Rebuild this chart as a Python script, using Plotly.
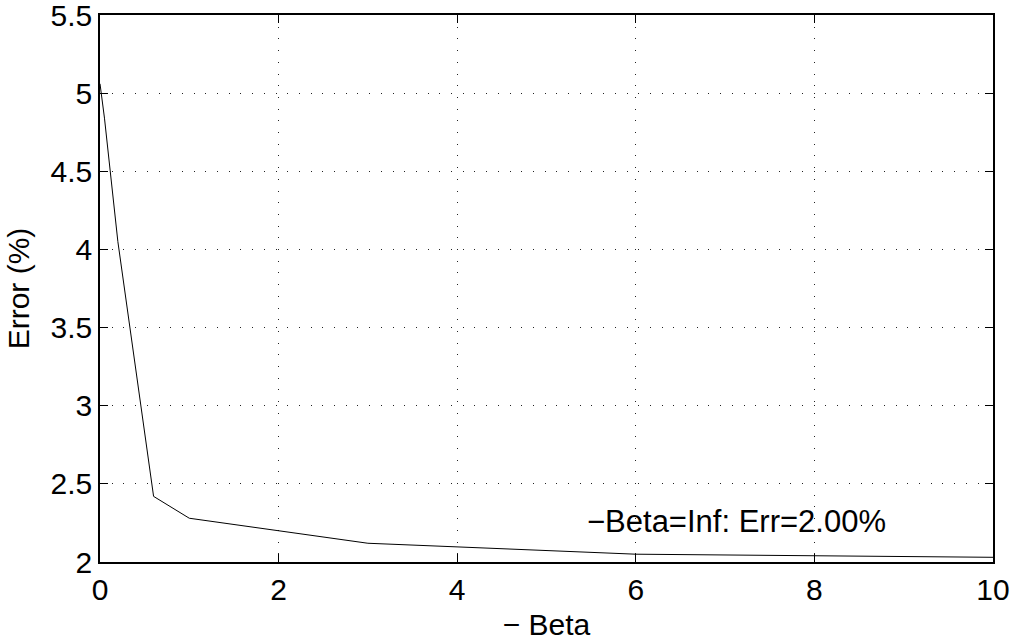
import plotly.graph_objects as go

beta = [0, 0.05, 0.2, 0.6, 1, 3, 6, 10]
err = [5.06, 4.84, 4.05, 2.42, 2.28, 2.12, 2.05, 2.03]
x_ticks = [0, 2, 4, 6, 8, 10]
y_ticks = [2, 2.5, 3, 3.5, 4, 4.5, 5, 5.5]
y_tick_text = ["2", "2.5", "3", "3.5", "4", "4.5", "5", "5.5"]
note = "\u2212Beta=Inf: Err=2.00%"
x_title = "\u2212 Beta"
y_title = "Error (%)"

fig = go.Figure()
fig.add_trace(go.Scatter(x=beta, y=err, mode="lines",
                         line=dict(color="black", width=1), showlegend=False))

fam = "Liberation Sans, Arial, sans-serif"
tick_font = dict(family=fam, size=30, color="black")
title_font = dict(family=fam, size=30, color="black")
note_font = dict(family=fam, size=31, color="black")
axis_common = dict(
    showline=True, linecolor="black", linewidth=1.5, mirror="allticks",
    ticks="inside", ticklen=8, tickwidth=1, tickcolor="black",
    showgrid=True, gridcolor="#222", gridwidth=1, griddash="1px,10.7px",
    zeroline=False, tickfont=tick_font, automargin=False,
    ticklabeloverflow="allow",
)
fig.update_xaxes(range=[0, 10], tickvals=x_ticks,
                 title=dict(text=x_title, font=title_font, standoff=17), **axis_common)
fig.update_yaxes(range=[2, 5.5], tickvals=y_ticks, ticktext=y_tick_text,
                 title=dict(text=y_title, font=title_font, standoff=12), **axis_common)

fig.add_annotation(x=7.13, y=2.256, text=note, showarrow=False, font=note_font,
                   xanchor="center", yanchor="middle")

fig.update_layout(
    width=1014, height=641,
    margin=dict(l=100, r=21, t=15, b=79),
    paper_bgcolor="white", plot_bgcolor="white",
    font=tick_font,
)
fig.write_html(
    "out.html",
    config={"displayModeBar": False},
    post_script="document.body.style.margin='0';document.body.style.overflow='hidden';",
)
